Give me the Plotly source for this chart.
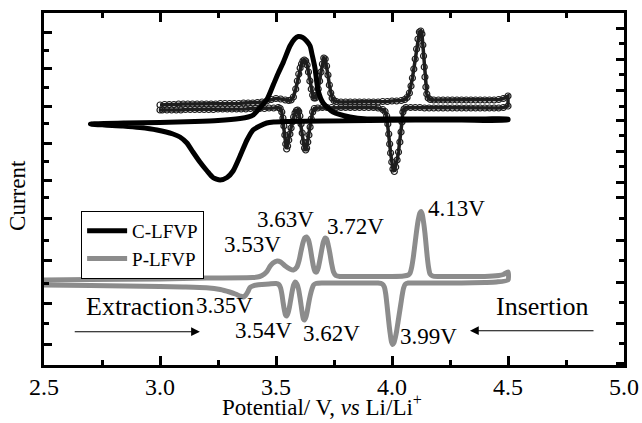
import plotly.graph_objects as go

# ---------------- data (current in arbitrary units) ----------------
# C-LFVP cyclic voltammogram (anodic sweep 2.7 -> 4.5 V, then cathodic sweep back)
c_lfvp_v = [2.70, 2.85, 3.00, 3.15, 3.25, 3.345, 3.38, 3.402, 3.43, 3.46, 3.488, 3.51, 3.532, 3.56,
            3.58, 3.596, 3.615, 3.632, 3.647, 3.656, 3.668, 3.681, 3.703, 3.746, 3.819, 3.892, 4.00,
            4.20, 4.40, 4.50,
            4.50, 4.30, 4.10, 3.90, 3.70, 3.55, 3.49, 3.46, 3.43, 3.401, 3.375, 3.345, 3.315, 3.289,
            3.259, 3.228, 3.203, 3.172, 3.142, 3.116, 3.086, 3.056, 2.987, 2.914, 2.841, 2.76, 2.70]
c_lfvp_i = [24.1, 24.2, 24.25, 24.35, 24.45, 24.65, 24.8, 25.0, 25.7, 26.5, 28.0, 29.2, 30.3, 31.9,
            32.6, 32.85, 32.75, 32.4, 31.9, 31.0, 29.7, 27.5, 26.2, 25.3, 24.8, 24.6, 24.6,
            24.6, 24.6, 24.6,
            24.5, 24.5, 24.5, 24.45, 24.4, 24.35, 24.3, 24.2, 23.9, 23.5, 22.5, 20.9, 19.4, 18.75,
            18.5, 18.75, 19.4, 20.3, 21.3, 22.2, 22.8, 23.1, 23.5, 23.75, 23.9, 24.0, 24.1]

# P-LFVP cyclic voltammogram
p_lfvp_v = [2.50, 2.70, 3.00, 3.20, 3.40, 3.43, 3.45, 3.461, 3.475, 3.487, 3.505, 3.52, 3.54, 3.56,
            3.575, 3.59, 3.600, 3.608, 3.616, 3.624, 3.632, 3.640, 3.647, 3.654, 3.661, 3.668, 3.675,
            3.682, 3.690, 3.697, 3.704, 3.711, 3.718, 3.725, 3.732, 3.740, 3.748, 3.758, 3.775, 3.80,
            3.90, 4.00, 4.05, 4.07, 4.078, 4.085, 4.092, 4.099, 4.106, 4.113, 4.120, 4.125, 4.130,
            4.136, 4.142, 4.147, 4.152, 4.158, 4.164, 4.175, 4.20, 4.30, 4.40, 4.46, 4.48, 4.50,
            4.50, 4.45, 4.40, 4.30, 4.20, 4.10, 4.07, 4.058, 4.050, 4.044, 4.038, 4.032, 4.026, 4.020,
            4.014, 4.008, 4.003, 3.998, 3.993, 3.988, 3.983, 3.978, 3.973, 3.967, 3.958, 3.94, 3.90,
            3.80, 3.70, 3.672, 3.662, 3.655, 3.648, 3.641, 3.635, 3.629, 3.623, 3.618, 3.613, 3.608,
            3.603, 3.597, 3.590, 3.583, 3.576, 3.570, 3.564, 3.558, 3.552, 3.546, 3.541, 3.536, 3.531,
            3.526, 3.520, 3.512, 3.50, 3.47, 3.44, 3.417, 3.40, 3.388, 3.378, 3.368, 3.360, 3.345,
            3.325, 3.30, 3.26, 3.20, 3.10, 3.00, 2.85, 2.70, 2.50]
p_lfvp_i = [8.5, 8.55, 8.6, 8.7, 8.75, 8.85, 9.1, 9.35, 9.9, 10.2, 10.4, 10.3, 9.9, 9.6,
            9.5, 9.8, 10.5, 11.4, 12.2, 12.7, 12.8, 12.5, 11.8, 10.8, 9.9, 9.35, 9.3,
            9.7, 10.6, 11.5, 12.3, 12.7, 12.6, 12.0, 11.2, 10.1, 9.3, 8.95, 8.85, 8.85,
            8.85, 8.85, 8.9, 9.0, 9.2, 9.8, 10.8, 12.1, 13.4, 14.5, 15.2, 15.35, 15.1,
            14.3, 13.2, 12.0, 10.8, 9.7, 9.1, 8.9, 8.85, 8.85, 8.85, 8.95, 9.05, 9.3,
            8.5, 8.3, 8.25, 8.2, 8.2, 8.2, 8.2, 8.1, 7.7, 7.0, 6.1, 5.2, 4.3, 3.4,
            2.7, 2.2, 2.05, 2.3, 3.0, 3.9, 5.0, 6.1, 7.1, 7.8, 8.1, 8.2, 8.2,
            8.2, 8.2, 8.15, 8.0, 7.6, 7.0, 6.2, 5.4, 4.8, 4.5, 4.6, 5.2, 6.0,
            6.8, 7.6, 8.1, 8.3, 8.0, 7.4, 6.6, 5.8, 5.2, 4.9, 5.0, 5.5, 6.2,
            7.0, 7.7, 8.05, 8.15, 8.1, 8.05, 8.0, 7.9, 7.75, 7.3, 6.95, 6.8, 6.9,
            7.1, 7.3, 7.55, 7.72, 7.8, 7.85, 7.9, 7.95, 8.0]

# open-circle overlay curve (upper panel)
overlay_v = [3.00, 3.02, 3.04, 3.06, 3.08, 3.10, 3.12, 3.14, 3.16, 3.18, 3.20, 3.22, 3.24, 3.26,
             3.28, 3.30, 3.32, 3.34, 3.36, 3.38, 3.40, 3.42, 3.44, 3.46, 3.48, 3.50, 3.52, 3.54,
             3.555, 3.565, 3.575, 3.585, 3.592, 3.598, 3.604, 3.610, 3.616, 3.622, 3.628, 3.634,
             3.640, 3.646, 3.652, 3.658, 3.664, 3.670, 3.676, 3.682, 3.688, 3.694, 3.700, 3.706,
             3.712, 3.718, 3.724, 3.730, 3.736, 3.742, 3.750, 3.76, 3.78, 3.80, 3.82, 3.84, 3.86,
             3.88, 3.90, 3.92, 3.94, 3.96, 3.98, 4.00, 4.02, 4.04, 4.055, 4.065, 4.075, 4.082,
             4.088, 4.094, 4.100, 4.106, 4.112, 4.118, 4.124, 4.129, 4.133, 4.136, 4.139, 4.142,
             4.146, 4.150, 4.156, 4.165, 4.18, 4.20, 4.22, 4.24, 4.26, 4.28, 4.30, 4.32, 4.34,
             4.36, 4.38, 4.40, 4.42, 4.44, 4.46, 4.48, 4.50,
             4.50, 4.48, 4.46, 4.44, 4.42, 4.40, 4.38, 4.36, 4.34, 4.32, 4.30, 4.28, 4.26, 4.24,
             4.22, 4.20, 4.18, 4.16, 4.14, 4.12, 4.10, 4.08, 4.060, 4.052, 4.047, 4.043, 4.039,
             4.034, 4.028, 4.022, 4.016, 4.010, 4.004, 3.999, 3.994, 3.990, 3.986, 3.982, 3.977,
             3.970, 3.960, 3.94, 3.92, 3.90, 3.88, 3.86, 3.84, 3.82, 3.80, 3.78, 3.76, 3.74, 3.72,
             3.70, 3.68, 3.665, 3.658, 3.652, 3.647, 3.642, 3.637, 3.632, 3.628, 3.623, 3.618,
             3.613, 3.608, 3.603, 3.598, 3.593, 3.588, 3.582, 3.576, 3.570, 3.565, 3.560, 3.555,
             3.550, 3.546, 3.542, 3.538, 3.534, 3.530, 3.525, 3.518, 3.51, 3.49, 3.47, 3.45, 3.43,
             3.41, 3.39, 3.37, 3.35, 3.33, 3.31, 3.29, 3.27, 3.25, 3.23, 3.21, 3.19, 3.17, 3.15,
             3.13, 3.11, 3.09, 3.07, 3.05, 3.03, 3.01, 3.00]
overlay_i = [26.0, 26.05, 26.05, 26.05, 26.1, 26.1, 26.1, 26.1, 26.1, 26.1, 26.1, 26.1, 26.1, 26.15,
             26.15, 26.15, 26.15, 26.15, 26.2, 26.2, 26.2, 26.25, 26.3, 26.4, 26.55, 26.65, 26.6, 26.5,
             26.45, 26.5, 26.8, 27.6, 28.4, 29.1, 29.7, 30.1, 30.4, 30.5, 30.4, 30.0,
             29.3, 28.4, 27.6, 27.0, 26.7, 26.7, 27.0, 27.6, 28.4, 29.3, 30.1, 30.7,
             30.6, 29.9, 29.0, 28.0, 27.2, 26.7, 26.45, 26.35, 26.3, 26.3, 26.3, 26.3, 26.3,
             26.3, 26.3, 26.3, 26.3, 26.35, 26.35, 26.4, 26.4, 26.45, 26.55, 26.75, 27.2, 27.9,
             28.7, 29.6, 30.6, 31.6, 32.6, 33.3, 33.4, 33.1, 32.0, 30.9, 29.8, 28.8,
             27.8, 27.1, 26.7, 26.55, 26.5, 26.5, 26.5, 26.5, 26.5, 26.5, 26.5, 26.5, 26.5,
             26.5, 26.5, 26.5, 26.5, 26.5, 26.55, 26.65, 26.9,
             25.9, 25.75, 25.7, 25.7, 25.7, 25.7, 25.7, 25.7, 25.7, 25.7, 25.7, 25.7, 25.7, 25.7,
             25.7, 25.7, 25.7, 25.7, 25.7, 25.75, 25.75, 25.75, 25.75, 25.6, 25.3, 24.3, 23.3,
             22.3, 21.3, 20.5, 19.8, 19.35, 19.6, 20.3, 21.2, 22.1, 23.1, 24.1, 24.9,
             25.35, 25.55, 25.7, 25.75, 25.75, 25.75, 25.75, 25.75, 25.75, 25.75, 25.75, 25.75, 25.75, 25.75,
             25.75, 25.7, 25.65, 25.3, 24.6, 23.8, 23.0, 22.3, 21.7, 21.5, 21.7, 22.3,
             23.2, 24.1, 24.9, 25.35, 25.5, 25.45, 25.2, 24.8, 24.3, 23.7, 23.1, 22.5,
             21.9, 21.6, 22.1, 23.0, 23.9, 24.7, 25.3, 25.65, 25.75, 25.7, 25.7, 25.65, 25.65,
             25.65, 25.65, 25.6, 25.6, 25.6, 25.6, 25.6, 25.6, 25.6, 25.55, 25.55, 25.55, 25.55, 25.55,
             25.55, 25.55, 25.5, 25.5, 25.5, 25.5, 25.5, 25.5]

series_names = ["C-LFVP", "P-LFVP"]
peak_labels = ["3.53V", "3.63V", "3.72V", "4.13V", "3.35V", "3.54V", "3.62V", "3.99V"]
x_ticks = [2.5, 3.0, 3.5, 4.0, 4.5, 5.0]
x_title = "Potential/ V, <i>vs</i> Li/Li<sup>+</sup>"
y_title = "Current"

# ---------------- figure ----------------
SERIF = "Liberation Serif, Times New Roman, serif"
fig = go.Figure()

fig.add_trace(go.Scatter(
    x=overlay_v, y=overlay_i, mode="lines+markers", showlegend=False, hoverinfo="skip",
    line=dict(color="#1e1e1e", width=3.5),
    marker=dict(symbol="circle-open", size=6, color="#1e1e1e", line=dict(width=1.2)),
))
fig.add_trace(go.Scatter(
    x=c_lfvp_v, y=c_lfvp_i, mode="lines", name=series_names[0],
    line=dict(color="#000000", width=5, shape="spline", smoothing=0.6),
))
fig.add_trace(go.Scatter(
    x=p_lfvp_v, y=p_lfvp_i, mode="lines", name=series_names[1],
    line=dict(color="#8c8c8c", width=5, shape="spline", smoothing=0.6),
))
# carrier for the right-hand axis
fig.add_trace(go.Scatter(x=[None], y=[None], yaxis="y2", showlegend=False, hoverinfo="skip"))

# annotations (peak labels)
label_pos = [(3.399, 12.05), (3.542, 14.6), (3.841, 13.9), (4.279, 15.65),
             (3.280, 6.0), (3.444, 3.5), (3.740, 3.2), (4.159, 2.85)]
annotations = []
for txt, (ax_, ay_) in zip(peak_labels, label_pos):
    annotations.append(dict(x=ax_, y=ay_, xref="x", yref="y", text=txt, showarrow=False,
                            font=dict(family=SERIF, size=23, color="black"),
                            xanchor="center", yanchor="middle"))
annotations.append(dict(x=2.914, y=5.9, xref="x", yref="y", text="Extraction", showarrow=False,
                        font=dict(family=SERIF, size=26, color="black")))
annotations.append(dict(x=4.647, y=5.9, xref="x", yref="y", text="Insertion", showarrow=False,
                        font=dict(family=SERIF, size=26, color="black")))
# arrows
annotations.append(dict(x=3.172, y=3.33, ax=2.626, ay=3.33, xref="x", yref="y", axref="x", ayref="y",
                        text="", showarrow=True, arrowhead=2, arrowsize=1.6, arrowwidth=1.1,
                        arrowcolor="black"))
annotations.append(dict(x=4.336, y=3.43, ax=4.875, ay=3.43, xref="x", yref="y", axref="x", ayref="y",
                        text="", showarrow=True, arrowhead=2, arrowsize=1.6, arrowwidth=1.1,
                        arrowcolor="black"))
# axis titles
annotations.append(dict(x=0.479, y=-0.161, xref="paper", yref="paper", text=x_title, showarrow=False,
                        font=dict(family=SERIF, size=23, color="black"),
                        xanchor="center", yanchor="bottom"))
annotations.append(dict(x=-0.045, y=0.483, xref="paper", yref="paper", text=y_title, showarrow=False,
                        textangle=-90, font=dict(family=SERIF, size=23, color="black"),
                        xanchor="center", yanchor="middle"))

left_major = [33.3, 29.7, 25.9, 22.2, 18.5, 14.7, 10.5, 6.2, 2.1]
left_minor = [31.5, 27.8, 24.2, 20.4, 16.8, 12.5, 8.2, 4.2]
right_major = [33.7, 30.6, 27.5, 24.5, 21.4, 18.3, 16.8, 12.5, 8.3, 4.2, 0.2]
right_minor = [32.2, 29.1, 25.9, 23.0, 19.9, 14.7, 10.5, 6.3, 2.2]

fig.update_layout(
    width=642, height=423,
    margin=dict(l=44, r=18, t=13, b=58, autoexpand=False),
    paper_bgcolor="white", plot_bgcolor="white",
    font=dict(family=SERIF, color="black"),
    showlegend=True,
    legend=dict(x=0.064, y=0.4375, xanchor="left", yanchor="top",
                bgcolor="white", bordercolor="black", borderwidth=1,
                font=dict(family=SERIF, size=19, color="black"),
                tracegroupgap=0, itemwidth=40),
    annotations=annotations,
    xaxis=dict(range=[2.5, 5.0], tickmode="array", tickvals=x_ticks, tickformat=".1f",
               ticks="inside", ticklen=9, tickwidth=2.5, tickcolor="black",
               showline=True, linewidth=3, linecolor="black", mirror="ticks",
               showgrid=False, zeroline=False, automargin=False, ticklabelstandoff=-2,
               minor=dict(tickmode="linear", tick0=2.5, dtick=0.25, ticks="inside", ticklen=5,
                          tickwidth=2.5, tickcolor="black", showgrid=False),
               tickfont=dict(family=SERIF, size=24, color="black")),
    yaxis=dict(range=[0, 35.2], showticklabels=False, tickmode="array", tickvals=left_major,
               ticks="inside", ticklen=8, tickwidth=2.5, tickcolor="black",
               showline=True, linewidth=3, linecolor="black", mirror=False,
               showgrid=False, zeroline=False, automargin=False,
               minor=dict(tickmode="array", tickvals=left_minor, ticks="inside", ticklen=5,
                          tickwidth=2.5, tickcolor="black", showgrid=False)),
    yaxis2=dict(range=[0, 35.2], overlaying="y", side="right", showticklabels=False,
                tickmode="array", tickvals=right_major,
                ticks="inside", ticklen=8, tickwidth=2.5, tickcolor="black",
                showline=True, linewidth=3, linecolor="black",
                showgrid=False, zeroline=False, automargin=False,
                minor=dict(tickmode="array", tickvals=right_minor, ticks="inside", ticklen=5,
                           tickwidth=2.5, tickcolor="black", showgrid=False)),
)

fig.write_html("out.html", config={"displayModeBar": False},
               post_script="document.body.style.margin='0';document.body.style.padding='0';")
